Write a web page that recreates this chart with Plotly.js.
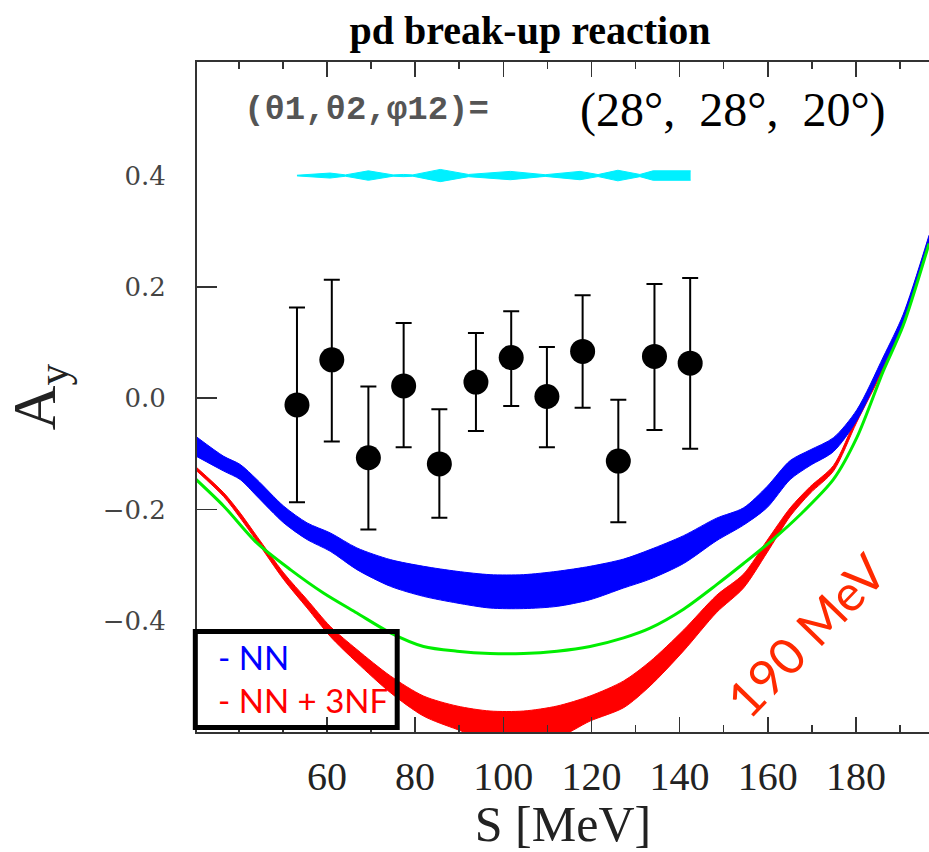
<!DOCTYPE html>
<html><head><meta charset="utf-8">
<script src="https://cdn.plot.ly/plotly-3.0.1.min.js"></script>
<style>html,body{margin:0;padding:0;background:#fff}#chart{width:929px;height:852px}</style>
</head><body><div id="chart"></div>
<script>
// ---- NN (blue band) ----
const nnEnergy = [30.5, 36.6, 40.3, 44.1, 50.2, 55.5, 60.75, 66.8, 74.4, 81.9, 89.5, 97.0, 104.6, 112.2, 119.7, 127.3, 133.3, 140.9, 148.4, 154.5, 159.8, 165.1, 169.6, 174.9, 180.2, 186.2, 190.7, 196.6];
const nnUpper  = [-0.070, -0.1045, -0.119, -0.146, -0.194, -0.224, -0.242, -0.269, -0.290, -0.302, -0.311, -0.317, -0.317, -0.311, -0.302, -0.289, -0.272, -0.247, -0.2155, -0.197, -0.159, -0.112, -0.093, -0.071, -0.021, 0.074, 0.150, 0.293];
const nnLower  = [-0.105, -0.131, -0.146, -0.176, -0.224, -0.254, -0.275, -0.308, -0.338, -0.356, -0.368, -0.377, -0.378, -0.374, -0.362, -0.341, -0.325, -0.297, -0.256, -0.228, -0.197, -0.146, -0.121, -0.096, -0.040, 0.058, 0.134, 0.278];
// ---- NN + 3NF (red band) ----
const tnfEnergy = [30.5, 36.6, 40.3, 44.1, 50.2, 55.5, 60.75, 66.8, 74.4, 81.9, 89.5, 97.0, 104.6, 112.2, 119.7, 127.3, 133.3, 140.9, 148.4, 154.5, 159.8, 165.1, 169.6, 174.9, 180.2, 186.2, 190.7, 196.6];
const tnfUpper  = [-0.125, -0.170, -0.206, -0.248, -0.314, -0.362, -0.410, -0.4515, -0.499, -0.535, -0.553, -0.562, -0.562, -0.553, -0.535, -0.508, -0.473, -0.4165, -0.354, -0.316, -0.256, -0.197, -0.159, -0.121, -0.033, 0.061, 0.145, 0.290];
const tnfLower  = [-0.131, -0.177, -0.215, -0.257, -0.326, -0.377, -0.428, -0.475, -0.529, -0.571, -0.595, -0.615, -0.615, -0.610, -0.580, -0.556, -0.517, -0.454, -0.385, -0.341, -0.278, -0.212, -0.171, -0.131, -0.043, 0.0515, 0.135, 0.281];
// ---- green curve ----
const greenEnergy = [30.3, 36.6, 44.1, 51.7, 59.2, 66.8, 74.4, 81.9, 89.5, 97.0, 104.6, 112.2, 119.7, 127.3, 133.3, 140.9, 148.4, 154.5, 161.3, 167.4, 174.9, 180.2, 186.2, 190.7, 196.6];
const greenAy     = [-0.146, -0.194, -0.260, -0.308, -0.350, -0.386, -0.4215, -0.446, -0.4545, -0.4587, -0.4587, -0.4545, -0.446, -0.4305, -0.413, -0.379, -0.335, -0.297, -0.253, -0.209, -0.146, -0.071, 0.0485, 0.130, 0.278];
// ---- measured points ----
const dataEnergy = [53.2, 61.1, 69.4, 77.4, 85.5, 93.8, 101.8, 109.9, 118.0, 126.1, 134.3, 142.4];
const dataAy     = [-0.012, 0.069, -0.107, 0.022, -0.118, 0.029, 0.073, 0.003, 0.084, -0.113, 0.075, 0.063];
const dataErrUp  = [0.175, 0.144, 0.128, 0.113, 0.098, 0.088, 0.083, 0.089, 0.101, 0.110, 0.130, 0.153];
const dataErrDn  = [0.175, 0.147, 0.129, 0.110, 0.097, 0.088, 0.087, 0.091, 0.101, 0.110, 0.132, 0.154];
// ---- cyan systematic band (centre 0.4, half-width) ----
const cyanEnergy = [53.2, 60.7, 64.2, 69.4, 75.0, 77.4, 79.5, 85.7, 92.1, 101.6, 109.5, 117.4, 121.5, 126.0, 131.0, 134.0, 142.5];
const cyanCentre = [0.400, 0.400, 0.400, 0.400, 0.400, 0.400, 0.400, 0.400, 0.400, 0.400, 0.400, 0.400, 0.400, 0.400, 0.400, 0.400, 0.400];
const cyanHalf   = [0.0006, 0.0045, 0.0012, 0.0085, 0.0012, 0.002, 0.0012, 0.011, 0.002, 0.0075, 0.0015, 0.0075, 0.0018, 0.0095, 0.002, 0.0085, 0.0085];
// ---- ticks ----
const xTickVals = [60, 80, 100, 120, 140, 160, 180];
const yTickVals = [-0.4, -0.2, 0.0, 0.2, 0.4];
const yTickText = ['\u22120.4', '\u22120.2', '0.0', '0.2', '0.4'];
const yMarkVals = [-0.2, 0.0, 0.2];

const cyanUp = cyanCentre.map((c, i) => c + cyanHalf[i]);
const cyanLo = cyanCentre.map((c, i) => c - cyanHalf[i]);

function band(x, lo, hi, color, shape) {
  return [
    {x: x, y: lo, mode: 'lines', line: {color: color, width: 1, shape: shape, smoothing: 0.8}, hoverinfo: 'skip', showlegend: false},
    {x: x, y: hi, mode: 'lines', line: {color: color, width: 1, shape: shape, smoothing: 0.8}, fill: 'tonexty', fillcolor: color, hoverinfo: 'skip', showlegend: false}
  ];
}

const traces = [].concat(
  band(tnfEnergy, tnfLower, tnfUpper, '#ff0000', 'spline'),
  band(nnEnergy, nnLower, nnUpper, '#0000ff', 'spline'),
  band(cyanEnergy, cyanLo, cyanUp, '#00f0ff', 'linear'),
  [
    {x: greenEnergy, y: greenAy, mode: 'lines', line: {color: '#00ee00', width: 3, shape: 'spline', smoothing: 0.8}, yaxis: 'y2', showlegend: false},
    {x: dataEnergy, y: dataAy, mode: 'markers', marker: {size: 25, color: '#000'},
     error_y: {type: 'data', symmetric: false, array: dataErrUp, arrayminus: dataErrDn, thickness: 2, width: 8, color: '#000'}, yaxis: 'y2', showlegend: false}
  ]
);

const yRange = [-0.5997, 0.604];
const layout = {
  width: 929, height: 852,
  margin: {l: 197, r: 0, t: 62, b: 120, pad: 0},
  paper_bgcolor: '#fff', plot_bgcolor: '#fff',
  showlegend: false,
  title: {text: '<b>pd break-up reaction</b>', x: 0.5705, xref: 'container', xanchor: 'center', y: 0.9648, yref: 'container', yanchor: 'middle',
          font: {family: 'Liberation Serif', size: 40, color: '#000'}},
  xaxis: {
    range: [30.52, 196.58], tickmode: 'array', tickvals: xTickVals,
    ticks: 'inside', ticklen: 15, tickwidth: 1.5, tickcolor: '#333',
    minor: {tickmode: 'linear', tick0: 0, dtick: 10, ticks: 'inside', ticklen: 7, tickwidth: 1.5, tickcolor: '#333', showgrid: false},
    showline: true, linecolor: '#333', linewidth: 2, mirror: 'ticks',
    showgrid: false, zeroline: false,
    tickfont: {family: 'Liberation Serif', size: 40, color: '#222'},
    ticklabelstandoff: 8,
    title: {text: 'S [MeV]', font: {family: 'Liberation Serif', size: 50, color: '#222'}, standoff: 6}
  },
  yaxis: {
    range: yRange, tickmode: 'array', tickvals: yTickVals, ticktext: yTickText,
    ticks: '', showline: true, linecolor: '#333', linewidth: 2, mirror: false,
    showgrid: false, zeroline: false,
    tickfont: {family: 'DejaVu Serif', size: 26, color: '#444'},
    ticklabelstandoff: 24,
    title: {text: 'A<sub>y</sub>', font: {family: 'Liberation Serif', size: 62, color: '#222'}, standoff: 28}
  },
  yaxis2: {
    range: yRange, overlaying: 'y', side: 'left', tickmode: 'array', tickvals: yMarkVals,
    ticks: 'inside', ticklen: 20, tickwidth: 1.5, tickcolor: '#333',
    showticklabels: false, showgrid: false, zeroline: false, showline: false
  },
  shapes: [
    {type: 'rect', xref: 'paper', yref: 'paper', x0: -0.0023, x1: 0.2735, y0: 0.0067, y1: 0.150,
     line: {color: '#000', width: 5}, fillcolor: 'rgba(0,0,0,0)'}
  ],
  annotations: [
    {text: '- NN', xref: 'paper', yref: 'paper', x: 0.0264, y: 0.1112, xanchor: 'left', yanchor: 'middle', showarrow: false,
     font: {family: 'Lato', size: 33, color: '#0000ff'}},
    {text: '- NN + 3NF', xref: 'paper', yref: 'paper', x: 0.0264, y: 0.0485, xanchor: 'left', yanchor: 'middle', showarrow: false,
     font: {family: 'Lato', size: 33, color: '#ff0000'}},
    {text: '190 MeV', xref: 'x', yref: 'y', x: 168.7, y: -0.426, xanchor: 'center', yanchor: 'middle', textangle: -46, showarrow: false,
     font: {family: 'Lato', size: 50, color: '#ff2a00'}},
    {text: '<b>(\u03b81,\u03b82,\u03c612)=</b>', xref: 'paper', yref: 'paper', x: 0.0619, y: 0.929, xanchor: 'left', yanchor: 'middle', showarrow: false,
     font: {family: 'Liberation Mono', size: 34, color: '#555'}},
    {text: '(28\u00b0,\u00a0 28\u00b0,\u00a0 20\u00b0)', xref: 'paper', yref: 'paper', x: 0.7324, y: 0.929, xanchor: 'center', yanchor: 'middle', showarrow: false,
     font: {family: 'Liberation Serif', size: 48, color: '#000'}}
  ]
};

Plotly.newPlot('chart', traces, layout, {displayModeBar: false, staticPlot: true});
</script></body></html>
